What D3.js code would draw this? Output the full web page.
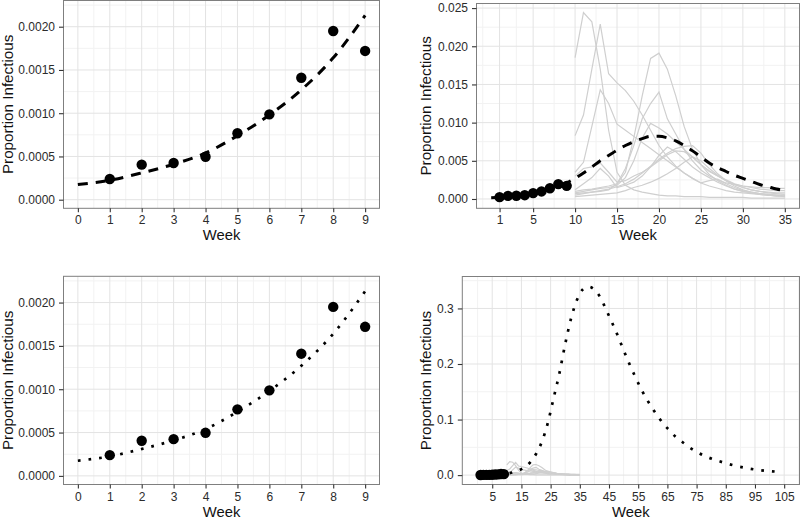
<!DOCTYPE html>
<html><head><meta charset="utf-8">
<script src="https://cdn.jsdelivr.net/npm/d3@7"></script>
<style>
body{margin:0;background:#fff}
text{font-family:"Liberation Sans",Arial,Helvetica,sans-serif}
</style>
</head><body>
<svg id="chart" width="800" height="520"></svg>
<script>
// ---------------- data ----------------
const obsWeeks = [1, 2, 3, 4, 5, 6, 7, 8, 9];
const observed = [0.000239, 0.000405, 0.000424, 0.000497, 0.000768, 0.000987, 0.00141, 0.00195, 0.00172];

const fitWeeks = [0, 1, 2, 3, 4, 5, 6, 7, 8, 9];
const fitValues = [0.000175, 0.000225, 0.00031, 0.00041, 0.00054, 0.00074, 0.00098, 0.00127, 0.00164, 0.00213];

const projWeeks = [0,1,2,3,4,5,6,7,8,9,10,11,12,13,14,15,16,17,18,19,20,21,22,23,24,25,26,27,28,29,30,31,32,33,34,35];
const projValues = [0.000175,0.000225,0.00031,0.00041,0.00054,0.00074,0.00098,0.00127,0.00164,0.00213,
  0.0027,0.0034,0.0042,0.0050,0.0057,0.0064,0.0070,0.0075,0.0079,0.0082,0.0082,0.0080,0.0076,0.0070,0.0063,
  0.0055,0.0047,0.0041,0.0036,0.0031,0.0027,0.0023,0.0019,0.0016,0.0013,0.0011];

const simWeeks = [10,11,12,13,14,15,16,17,18,19,20,21,22,23,24,25,26,27,28,29,30,31,32,33,34,35];
const sim1 = [.0185,.0244,.0232,.0170,.0090,.0035,.0018,.0012,.0009,.0007,.0005,.0004,.0004,.0003,.0003,.0003,.0002,.0002,.0002,.0002,.0002,.0001,.0001,.0001,.0001,.0001];
const sim2 = [.0083,.0110,.0170,.0229,.0164,.0152,.0142,.0128,.0110,.0090,.0070,.0055,.0043,.0034,.0027,.0021,.0017,.0014,.0011,.0009,.0008,.0007,.0006,.0005,.0004,.0004];
const sim3 = [.0035,.0048,.0095,.0143,.0125,.0098,.0090,.0082,.0074,.0066,.0058,.0050,.0042,.0034,.0027,.0021,.0024,.0026,.0020,.0015,.0011,.0009,.0007,.0006,.0005,.0004];
const sim4 = [.0010,.0012,.0013,.0015,.0017,.0020,.0035,.0080,.0135,.0184,.0191,.0170,.0135,.0095,.0065,.0045,.0032,.0024,.0018,.0013,.0010,.0008,.0007,.0006,.0005,.0005];
const sim5 = [.0007,.0008,.0009,.0010,.0012,.0020,.0040,.0070,.0105,.0125,.0140,.0105,.0085,.0065,.0050,.0038,.0030,.0025,.0021,.0019,.0017,.0016,.0015,.0015,.0014,.0014];
const sim6 = [.0008,.0010,.0012,.0014,.0015,.0018,.0028,.0050,.0080,.0099,.0093,.0085,.0075,.0065,.0055,.0045,.0037,.0030,.0025,.0020,.0017,.0015,.0013,.0012,.0011,.0011];
const sim7 = [.0005,.0007,.0009,.0011,.0013,.0016,.0020,.0026,.0034,.0043,.0052,.0060,.0066,.0069,.0070,.0060,.0045,.0033,.0024,.0017,.0012,.0009,.0007,.0005,.0004,.0004];
const sim8 = [.0030,.0040,.0042,.0047,.0035,.0022,.0024,.0030,.0035,.0042,.0050,.0058,.0063,.0062,.0055,.0045,.0036,.0030,.0024,.0019,.0015,.0012,.0010,.0009,.0008,.0008];
const sim9 = [.0012,.0020,.0028,.0040,.0030,.0015,.0018,.0022,.0030,.0042,.0057,.0068,.0062,.0052,.0042,.0034,.0028,.0022,.0017,.0013,.0010,.0008,.0006,.0005,.0004,.0003];
const sim10 = [.0003,.0004,.0005,.0006,.0007,.0008,.0011,.0015,.0018,.0022,.0027,.0033,.0040,.0048,.0055,.0050,.0040,.0031,.0024,.0019,.0015,.0012,.0010,.0008,.0007,.0006];
const simSeries = [sim1, sim2, sim3, sim4, sim5, sim6, sim7, sim8, sim9, sim10];

const longWeeks = [0,5,9,12,15,18,20,22,24,26,28,30,32,34,36,38,40,42,44,46,48,50,52,54,56,58,60,62,64,66,68,70,72,75,78,81,84,88,92,96,100,103];
const longValues = [0.00017,0.00075,0.0021,0.0050,0.0108,0.023,0.038,0.060,0.093,0.138,0.183,0.236,0.282,0.315,0.334,0.339,0.334,0.320,0.298,0.275,0.251,0.225,0.200,0.177,0.155,0.136,0.119,0.104,0.090,0.079,0.068,0.060,0.052,0.042,0.034,0.028,0.023,0.0172,0.0128,0.0093,0.0072,0.0060];

// ticks
const xTicksShort = [0,1,2,3,4,5,6,7,8,9];
const yTicksShort = [0, 0.0005, 0.0010, 0.0015, 0.0020];
const xTicksMid = [1,5,10,15,20,25,30,35];
const yTicksMid = [0, 0.005, 0.010, 0.015, 0.020, 0.025];
const xTicksLong = [5,15,25,35,45,55,65,75,85,95,105];
const yTicksLong = [0, 0.1, 0.2, 0.3];

// ---------------- drawing ----------------
const svg = d3.select('#chart');
let clipId = 0;

function panel(o) {
  const g = svg.append('g');
  const x = d3.scaleLinear().domain(o.xd).range([o.l, o.r]);
  const y = d3.scaleLinear().domain(o.yd).range([o.b, o.t]);
  g.append('rect').attr('x', o.l).attr('y', o.t).attr('width', o.r - o.l).attr('height', o.b - o.t).attr('fill', '#fff');
  // minor grid
  g.selectAll(null).data(o.xMinor).join('line')
    .attr('x1', d => x(d)).attr('x2', d => x(d)).attr('y1', o.t).attr('y2', o.b)
    .attr('stroke', '#f2f2f2').attr('stroke-width', 1);
  g.selectAll(null).data(o.yMinor).join('line')
    .attr('y1', d => y(d)).attr('y2', d => y(d)).attr('x1', o.l).attr('x2', o.r)
    .attr('stroke', '#f2f2f2').attr('stroke-width', 1);
  // major grid
  g.selectAll(null).data(o.xTicks).join('line')
    .attr('x1', d => x(d)).attr('x2', d => x(d)).attr('y1', o.t).attr('y2', o.b)
    .attr('stroke', '#e3e3e3').attr('stroke-width', 1);
  g.selectAll(null).data(o.yTicks).join('line')
    .attr('y1', d => y(d)).attr('y2', d => y(d)).attr('x1', o.l).attr('x2', o.r)
    .attr('stroke', '#e3e3e3').attr('stroke-width', 1);

  const id = 'clip' + (clipId++);
  g.append('clipPath').attr('id', id).append('rect')
    .attr('x', o.l).attr('y', o.t).attr('width', o.r - o.l).attr('height', o.b - o.t);
  const c = g.append('g').attr('clip-path', `url(#${id})`);
  o.draw(c, x, y);

  g.append('rect').attr('x', o.l).attr('y', o.t).attr('width', o.r - o.l).attr('height', o.b - o.t)
    .attr('fill', 'none').attr('stroke', '#7f7f7f').attr('stroke-width', 1);

  const xa = g.append('g').attr('transform', `translate(0,${o.b})`)
    .call(d3.axisBottom(x).tickValues(o.xTicks).tickSize(4).tickPadding(3.5).tickFormat(d3.format('d')));
  const ya = g.append('g').attr('transform', `translate(${o.l},0)`)
    .call(d3.axisLeft(y).tickValues(o.yTicks).tickSize(4.5).tickPadding(4).tickFormat(d3.format(o.yFmt)));
  [xa, ya].forEach(a => {
    a.select('.domain').remove();
    a.selectAll('line').attr('stroke', '#333').attr('stroke-width', 1.1);
    a.selectAll('text').attr('font-size', 12).attr('fill', '#2b2b2b')
      .attr('font-family', '"Liberation Sans", Arial, sans-serif');
  });
  g.append('text').attr('x', (o.l + o.r) / 2).attr('y', o.b + 32)
    .attr('text-anchor', 'middle').attr('font-size', 14.8).attr('fill', '#111').text('Week');
  g.append('text').attr('transform', `translate(${o.yTitleX},${(o.t + o.b) / 2}) rotate(-90)`)
    .attr('text-anchor', 'middle').attr('font-size', 15.2).attr('fill', '#111').text('Proportion Infectious');
}

function drawPoints(c, x, y) {
  c.selectAll(null).data(obsWeeks).join('circle')
    .attr('cx', (d) => x(d)).attr('cy', (d, i) => y(observed[i])).attr('r', 5.2).attr('fill', '#000');
}
function drawSims(c, x, y) {
  const line = d3.line().x((d, i) => x(simWeeks[i])).y(d => y(d));
  c.selectAll(null).data(simSeries).join('path')
    .attr('d', line).attr('fill', 'none').attr('stroke', '#cfcfcf').attr('stroke-width', 1.2);
}
function drawCurve(c, x, y, xs, ys, dash, width) {
  const line = d3.line().x((d, i) => x(xs[i])).y(d => y(d)).curve(d3.curveMonotoneX);
  c.append('path').datum(ys).attr('d', line).attr('fill', 'none')
    .attr('stroke', '#000').attr('stroke-width', width).attr('stroke-dasharray', dash);
}

// top-left
panel({
  l: 63.5, r: 379.5, t: 0.5, b: 208.3, xd: [-0.45, 9.45], yd: [-0.0000994, 0.002303],
  xTicks: xTicksShort, yTicks: yTicksShort,
  xMinor: [0.5,1.5,2.5,3.5,4.5,5.5,6.5,7.5,8.5], yMinor: [0.00025,0.00075,0.00125,0.00175,0.00225],
  yFmt: '.4f', yTitleX: 13,
  draw: (c, x, y) => { drawCurve(c, x, y, fitWeeks, fitValues, '10,8', 3); drawPoints(c, x, y); }
});
// bottom-left
panel({
  l: 63.5, r: 379.5, t: 276.3, b: 484.5, xd: [-0.45, 9.45], yd: [-0.0000994, 0.002303],
  xTicks: xTicksShort, yTicks: yTicksShort,
  xMinor: [0.5,1.5,2.5,3.5,4.5,5.5,6.5,7.5,8.5], yMinor: [0.00025,0.00075,0.00125,0.00175,0.00225],
  yFmt: '.4f', yTitleX: 13,
  draw: (c, x, y) => { drawCurve(c, x, y, fitWeeks, fitValues, '2.7,8', 2.7); drawPoints(c, x, y); }
});
// top-right
panel({
  l: 476.5, r: 799.5, t: 3.5, b: 208.3, xd: [-1.75, 36.75], yd: [-0.00122, 0.0256],
  xTicks: xTicksMid, yTicks: yTicksMid,
  xMinor: [-1,3,7.5,12.5,17.5,22.5,27.5,32.5], yMinor: [0.0025,0.0075,0.0125,0.0175,0.0225],
  yFmt: '.3f', yTitleX: 431,
  draw: (c, x, y) => { drawSims(c, x, y); drawCurve(c, x, y, projWeeks, projValues, '10,8', 3); drawPoints(c, x, y); }
});
// bottom-right
panel({
  l: 462.3, r: 799.5, t: 276.5, b: 484.5, xd: [-5.25, 110.25], yd: [-0.0169, 0.3575],
  xTicks: xTicksLong, yTicks: yTicksLong,
  xMinor: [0,10,20,30,40,50,60,70,80,90,100,110], yMinor: [0.05,0.15,0.25,0.35],
  yFmt: '.1f', yTitleX: 431,
  draw: (c, x, y) => { drawSims(c, x, y); drawCurve(c, x, y, longWeeks, longValues, '2.7,8', 2.7); drawPoints(c, x, y); }
});
</script>
</body></html>
